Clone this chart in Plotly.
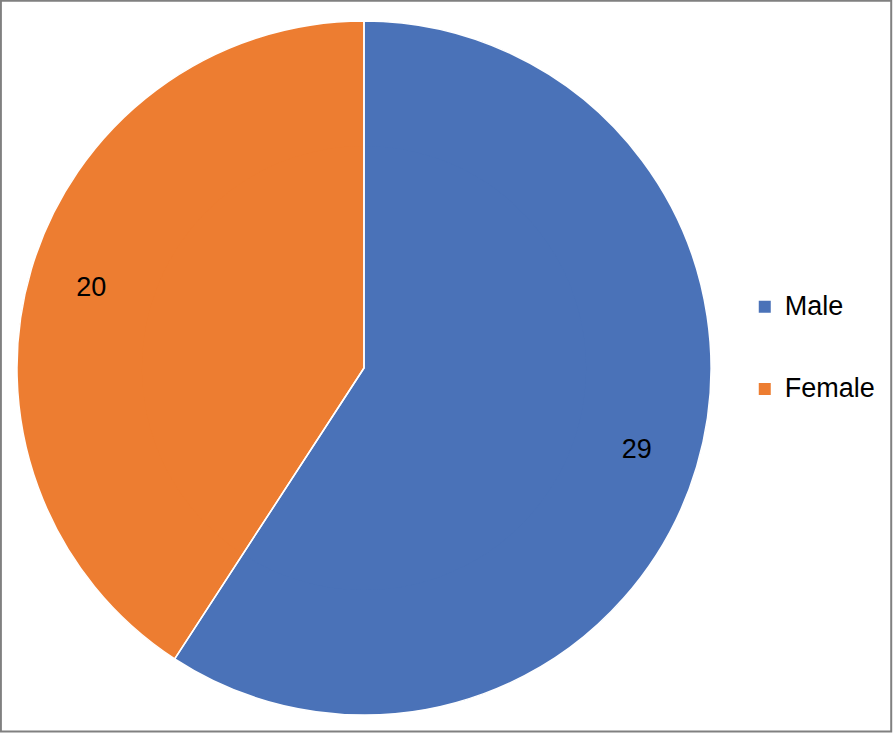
import plotly.graph_objects as go

# Data
genders = ["Male", "Female"]
counts = [29, 20]
slice_colors = ["#4A72B8", "#ED7D31"]

# legend labels padded with blank lines so the entries sit further apart
legend_labels = ["&nbsp;<br><span style='font-size:27px'>%s</span><br>&nbsp;" % g for g in genders]

pie_domain = dict(x=[17 / 893, 711 / 893], y=[17 / 733, 713 / 733])

fig = go.Figure()
# full pie (draws the slices and the legend)
fig.add_trace(go.Pie(labels=legend_labels,
                     values=counts,
                     sort=False,
                     direction="clockwise",
                     marker=dict(colors=slice_colors, line=dict(width=0)),
                     textinfo="none",
                     hoverinfo="skip",
                     domain=pie_domain))
# same pie as a ring on top, only so the value labels sit out near the rim
fig.add_trace(go.Pie(labels=legend_labels,
                     values=counts,
                     sort=False,
                     direction="clockwise",
                     hole=0.64,
                     showlegend=False,
                     marker=dict(colors=slice_colors, line=dict(width=0)),
                     textinfo="value",
                     textposition="inside",
                     insidetextorientation="horizontal",
                     textfont=dict(size=27, color="black", family="Liberation Sans, Arial"),
                     hoverinfo="skip",
                     domain=pie_domain))
# transparent pie on top for the white slice borders
fig.add_trace(go.Pie(labels=legend_labels,
                     values=counts,
                     sort=False,
                     direction="clockwise",
                     showlegend=False,
                     marker=dict(colors=["rgba(0,0,0,0)"] * len(counts),
                                 line=dict(color="white", width=1.5)),
                     textinfo="none",
                     hoverinfo="value+percent",
                     domain=pie_domain))

fig.update_layout(width=893,
                  height=733,
                  margin=dict(l=0, r=0, t=0, b=0),
                  paper_bgcolor="white",
                  font=dict(family="Liberation Sans, Arial", color="black"),
                  legend=dict(x=0.834, y=0.525, xanchor="left", yanchor="middle",
                              font=dict(size=20.3, color="black"),
                              bgcolor="rgba(0,0,0,0)"),
                  shapes=[dict(type="rect", xref="paper", yref="paper",
                               x0=0.001, x1=0.998, y0=0.002, y1=0.999,
                               line=dict(color="#808080", width=2))])

fig.write_html("out.html", config={"displayModeBar": False},
               post_script="document.body.style.margin='0';")
